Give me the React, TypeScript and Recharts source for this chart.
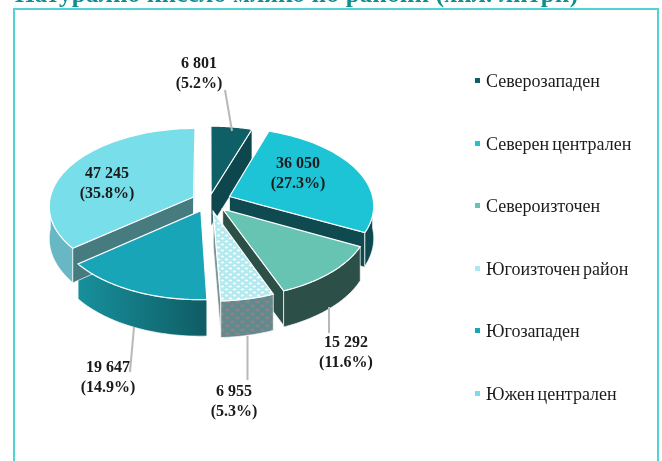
import React from "react";
import { PieChart, Pie, Legend } from "recharts";

const TITLE = "Натурално кисело мляко по райони (хил. литри)";
const regions = ["Северозападен", "Северен централен", "Североизточен", "Югоизточен район", "Югозападен", "Южен централен"];
const litres = [6801, 36050, 15292, 6955, 19647, 47245];
const topColors = ["#0f5f66", "#1dc4d6", "#68c4b2", "url(#dots)", "#19a5b8", "#78deea"];
const legendColors = ["#0f5f66", "#1dc4d6", "#68c4b2", "#a8e8ee", "#19a5b8", "#78deea"];
const rimColors = ["#0d474d", "#0d4a50", "#2c4f48", "url(#weave)", "url(#rim5)", "#67b8c4"];
const cutColors = ["#0d474d", "#0e4a50", "#2c4f48", "#7d9499", "#105e66", "#467b80"];
const explodeBy = [0.09, 0.155, 0.14, 0.14, 0.135, 0.12];

const tableRows = regions.map((name, i) => ({ name, value: litres[i], fill: topColors[i] }));

const CX = 209, CY = 201, RX = 144;
const RY_RATIO = 77 / 144, TILT = 0.11, DEPTH = 32;

// clockwise-from-north position on the tilted plane, with perspective
function project(cx: number, cy: number, r: number, mid: number, e: number, a: number, rad: number, drop: number) {
  const t = (a * Math.PI) / 180, m = (mid * Math.PI) / 180;
  const u = e * Math.sin(m) + rad * Math.sin(t);
  const v = -e * Math.cos(m) - rad * Math.cos(t);
  const s = 1 / (1 - TILT * v);
  return { x: cx + r * u * s, y: cy + r * RY_RATIO * v * s + drop * s };
}

function geom(p: any) {
  const a0 = 90 - p.startAngle, a1 = 90 - p.endAngle, mid = (a0 + a1) / 2;
  const P = (a: number, rad: number, drop = 0) => project(p.cx, p.cy, p.outerRadius, mid, explodeBy[p.index], a, rad, drop);
  return { a0, a1, P };
}
const d = (pts: { x: number; y: number }[]) =>
  pts.map((q, i) => `${i ? "L" : "M"}${q.x.toFixed(2)} ${q.y.toFixed(2)}`).join(" ") + " Z";

function Walls(p: any) {
  const { a0, a1, P } = geom(p);
  const i = p.index as number;
  const parts: React.ReactNode[] = [];
  const tip = P(0, 0), st = P(a0, 1), en = P(a1, 1);
  const quad = (A: any, B: any, key: string) => (
    <path key={key} d={d([A, B, { x: B.x, y: B.y + DEPTH * (B.y > 200 ? 1.08 : 1) }, { x: A.x, y: A.y + DEPTH * (A.y > 200 ? 1.08 : 1) }])}
      fill={cutColors[i]} stroke="#ffffff" strokeWidth={0.7} />
  );
  if (st.x < tip.x - 1) parts.push(quad(tip, st, "s"));
  if (en.x > tip.x + 1) parts.push(quad(en, tip, "e"));
  const lo = Math.max(a0, 90), hi = Math.min(a1, 270);
  if (hi > lo) {
    const top: any[] = [], bot: any[] = [];
    for (let k = 0; k <= 48; k++) {
      const a = lo + ((hi - lo) * k) / 48;
      top.push(P(a, 1));
      bot.unshift(P(a, 1, DEPTH));
    }
    parts.push(<path key="r" d={d([...top, ...bot])} fill={rimColors[i]} stroke="#ffffff" strokeWidth={0.7} />);
  }
  return <g>{parts}</g>;
}

function Top(p: any) {
  const { a0, a1, P } = geom(p);
  const pts = [P(0, 0)];
  for (let k = 0; k <= 64; k++) pts.push(P(a0 + ((a1 - a0) * k) / 64, 1));
  return <path d={d(pts)} fill={p.fill} stroke="#ffffff" strokeWidth={1.2} />;
}

const labelSpots = [
  { x: 199, y: 68, line: [232, 131, 225, 90] },
  { x: 298, y: 168 },
  { x: 346, y: 347, line: [329, 307, 329, 333] },
  { x: 234, y: 396, line: [247.5, 336, 247.5, 380] },
  { x: 108, y: 372, line: [134, 327, 130, 372] },
  { x: 107, y: 178 },
];
const TOTAL = litres.reduce((a, b) => a + b, 0);
const fmt = (n: number) => String(n).replace(/\B(?=(\d{3})+$)/g, " ");

function PieLabel(p: any) {
  const s = labelSpots[p.index];
  const val = litres[p.index];
  return (
    <g>
      {s.line && <line x1={s.line[0]} y1={s.line[1]} x2={s.line[2]} y2={s.line[3]} stroke="#b8b8b8" strokeWidth={2} />}
      <text x={s.x} y={s.y} textAnchor="middle" fontFamily="'Liberation Serif'" fontWeight="bold" fontSize={16} fill="#1a1a1a">
        <tspan x={s.x}>{fmt(val)}</tspan>
        <tspan x={s.x} dy={19.6}>{`(${((val / TOTAL) * 100).toFixed(1)}%)`}</tspan>
      </text>
    </g>
  );
}

function LegendBox() {
  return (
    <div style={{ position: "relative", width: 190, height: 340 }}>
      {regions.map((name, i) => (
        <div key={name} style={{ position: "absolute", left: 0, top: i * 62.6, height: 20, whiteSpace: "nowrap", font: "18px 'Liberation Serif'", wordSpacing: -1.5, color: "#1c1c1c", lineHeight: "20px" }}>
          <span style={{ position: "absolute", left: 0, top: 7, width: 5, height: 5, background: legendColors[i] }} />
          <span style={{ position: "absolute", left: 11, top: 0 }}>{name}</span>
        </div>
      ))}
    </div>
  );
}

export default function App() {
  return (
    <div style={{ position: "absolute", left: 0, top: 0, width: 662, height: 461, overflow: "hidden", background: "#fff", filter: "blur(0.35px)" }}>
      <div style={{ position: "absolute", left: 15, top: -20, font: "bold 25px 'Liberation Serif'", color: "#0e8f8c", whiteSpace: "nowrap", letterSpacing: 0.25 }}>{TITLE}</div>
      <div style={{ position: "absolute", left: 13, top: 8, width: 642, height: 470, border: "2.5px solid #52d2d2", boxSizing: "content-box" }} />
      <div style={{ position: "absolute", left: 0, top: 0 }}>
        <PieChart width={662} height={461} margin={{ top: 0, right: 0, bottom: 0, left: 0 }}>
          <defs>
            <pattern id="dots" width="8" height="6" patternUnits="userSpaceOnUse">
              <rect width="8" height="6" fill="#b4e9ee" />
              <ellipse cx="2.5" cy="1.5" rx="1.7" ry="1" fill="#ffffff" />
              <ellipse cx="6.5" cy="4.5" rx="1.7" ry="1" fill="#ffffff" />
            </pattern>
            <pattern id="weave" width="10" height="8" patternUnits="userSpaceOnUse">
              <rect width="10" height="8" fill="#5f8a90" />
              <ellipse cx="2.5" cy="2" rx="2.4" ry="1.4" fill="#8a8585" />
              <ellipse cx="7.5" cy="6" rx="2.4" ry="1.4" fill="#8a8585" />
            </pattern>
            <linearGradient id="rim5" x1="0" y1="0" x2="1" y2="0">
              <stop offset="0" stopColor="#17909c" />
              <stop offset="1" stopColor="#0f5c64" />
            </linearGradient>
          </defs>
          <Pie data={tableRows} dataKey="value" nameKey="name" cx={CX} cy={CY} outerRadius={RX} innerRadius={0} startAngle={90} endAngle={-270}
            isAnimationActive={false} legendType="none" shape={Walls} label={false} labelLine={false} />
          <Pie data={tableRows} dataKey="value" nameKey="name" cx={CX} cy={CY} outerRadius={RX} innerRadius={0} startAngle={90} endAngle={-270}
            isAnimationActive={false} shape={Top} label={PieLabel} labelLine={false} />
          <Legend content={<LegendBox />} wrapperStyle={{ position: "absolute", left: 475, top: 71, width: 190, height: 340 }} />
        </PieChart>
      </div>
    </div>
  );
}
